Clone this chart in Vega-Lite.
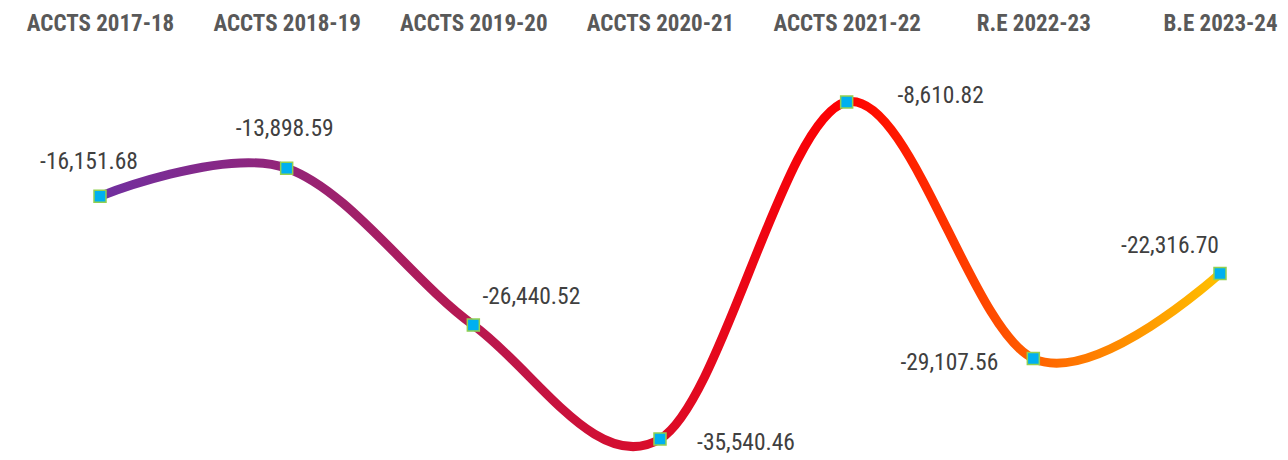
{
  "$schema": "https://vega.github.io/schema/vega-lite/v6.json",
  "width": 1288,
  "height": 460,
  "autosize": {"type": "none"},
  "padding": 0,
  "background": "white",
  "config": {
    "view": {"stroke": null},
    "locale": {
      "number": {"decimal": ".", "thousands": ",", "grouping": [3], "currency": ["$", ""], "minus": "-"}
    }
  },
  "data": {
    "values": [
      {"year": "ACCTS 2017-18", "value": -16151.68},
      {"year": "ACCTS 2018-19", "value": -13898.59},
      {"year": "ACCTS 2019-20", "value": -26440.52},
      {"year": "ACCTS 2020-21", "value": -35540.46},
      {"year": "ACCTS 2021-22", "value": -8610.82},
      {"year": "R.E 2022-23", "value": -29107.56},
      {"year": "B.E 2023-24", "value": -22316.70}
    ]
  },
  "encoding": {
    "x": {
      "field": "year",
      "type": "ordinal",
      "sort": null,
      "scale": {"type": "point", "range": [100, 1220], "padding": 0},
      "axis": {
        "orient": "top",
        "title": null,
        "domain": false,
        "ticks": false,
        "grid": false,
        "offset": -30,
        "labelPadding": 0,
        "labelAngle": 0,
        "labelBaseline": "alphabetic",
        "labelFont": "Roboto Condensed, Liberation Sans Narrow, Roboto",
        "labelFontWeight": "bold",
        "labelFontSize": 23,
        "labelColor": "#595959"
      }
    },
    "y": {
      "field": "value",
      "type": "quantitative",
      "scale": {"domain": [-37218.5, -460], "nice": false, "zero": false},
      "axis": null
    }
  },
  "layer": [
    {
      "mark": {
        "type": "line",
        "interpolate": "cardinal",
        "strokeWidth": 9,
        "strokeCap": "butt",
        "color": {
          "gradient": "linear",
          "x1": 0, "y1": 0, "x2": 1, "y2": 0,
          "stops": [
            {"offset": 0, "color": "#7030A0"},
            {"offset": 0.667, "color": "#FF0000"},
            {"offset": 1, "color": "#FFC000"}
          ]
        }
      }
    },
    {
      "mark": {"type": "square", "size": 144, "filled": true, "fill": "#00B0F0", "stroke": "#92D050", "strokeWidth": 1.5, "opacity": 1}
    },
    {
      "transform": [{"filter": "datum.year === 'ACCTS 2017-18'"}],
      "mark": {"type": "text", "dx": -11, "dy": -34, "align": "center", "baseline": "middle", "font": "Roboto Condensed, Liberation Sans Narrow, Roboto", "fontSize": 23.5, "color": "#404040"},
      "encoding": {"text": {"field": "value", "type": "quantitative", "format": ",.2f"}}
    },
    {
      "transform": [{"filter": "datum.year === 'ACCTS 2018-19'"}],
      "mark": {"type": "text", "dx": -2, "dy": -39, "align": "center", "baseline": "middle", "font": "Roboto Condensed, Liberation Sans Narrow, Roboto", "fontSize": 23.5, "color": "#404040"},
      "encoding": {"text": {"field": "value", "type": "quantitative", "format": ",.2f"}}
    },
    {
      "transform": [{"filter": "datum.year === 'ACCTS 2019-20'"}],
      "mark": {"type": "text", "dx": 58, "dy": -28, "align": "center", "baseline": "middle", "font": "Roboto Condensed, Liberation Sans Narrow, Roboto", "fontSize": 23.5, "color": "#404040"},
      "encoding": {"text": {"field": "value", "type": "quantitative", "format": ",.2f"}}
    },
    {
      "transform": [{"filter": "datum.year === 'ACCTS 2020-21'"}],
      "mark": {"type": "text", "dx": 86, "dy": 4, "align": "center", "baseline": "middle", "font": "Roboto Condensed, Liberation Sans Narrow, Roboto", "fontSize": 23.5, "color": "#404040"},
      "encoding": {"text": {"field": "value", "type": "quantitative", "format": ",.2f"}}
    },
    {
      "transform": [{"filter": "datum.year === 'ACCTS 2021-22'"}],
      "mark": {"type": "text", "dx": 94, "dy": -6, "align": "center", "baseline": "middle", "font": "Roboto Condensed, Liberation Sans Narrow, Roboto", "fontSize": 23.5, "color": "#404040"},
      "encoding": {"text": {"field": "value", "type": "quantitative", "format": ",.2f"}}
    },
    {
      "transform": [{"filter": "datum.year === 'R.E 2022-23'"}],
      "mark": {"type": "text", "dx": -84, "dy": 5, "align": "center", "baseline": "middle", "font": "Roboto Condensed, Liberation Sans Narrow, Roboto", "fontSize": 23.5, "color": "#404040"},
      "encoding": {"text": {"field": "value", "type": "quantitative", "format": ",.2f"}}
    },
    {
      "transform": [{"filter": "datum.year === 'B.E 2023-24'"}],
      "mark": {"type": "text", "dx": -50, "dy": -28, "align": "center", "baseline": "middle", "font": "Roboto Condensed, Liberation Sans Narrow, Roboto", "fontSize": 23.5, "color": "#404040"},
      "encoding": {"text": {"field": "value", "type": "quantitative", "format": ",.2f"}}
    }
  ]
}
